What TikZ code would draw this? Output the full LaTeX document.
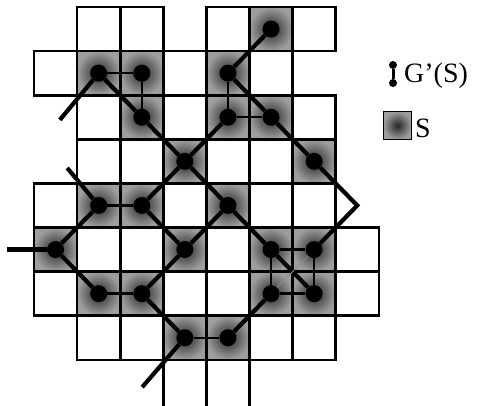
\documentclass[tikz,border=0pt]{standalone}
\usepackage{fontspec}
\setmainfont{Liberation Serif}
\usetikzlibrary{backgrounds}

\begin{document}
\begin{tikzpicture}[
        x=1pt, y=-1pt,
        font=\fontsize{28}{32}\selectfont,
    % cells of S: gray, darker towards the middle
        scell/.style={shading=radial, inner color=black!85, outer color=black!38},
        gline/.style={line width=2.6pt},
        vtx/.style={circle, fill=black, inner sep=0pt, minimum size=17pt},
        lvtx/.style={circle, fill=black, inner sep=0pt, minimum size=8pt},
        gedge/.style={line width=2.4pt},
        dedge/.style={line width=4.2pt, line join=miter},
        fedge/.style={line width=0.8pt, black!45}
    ]
\useasboundingbox (0,0) rectangle (480,405);

\begin{scope}[shift={(34,7)}, x=43.1pt, y=-44.1pt]
% --- cells of S and the grid, behind everything ---
\begin{pgfonlayer}{background}
\foreach \c/\r in {5/0, 1/1, 2/1, 4/1, 2/2, 4/2, 5/2, 3/3, 6/3, 1/4, 2/4, 4/4,
                   0/5, 3/5, 5/5, 6/5, 1/6, 2/6, 5/6, 6/6, 3/7, 4/7}
    \shade[scell] (\c,\r) rectangle ++(1,1);
\foreach \r/\cols in {0/{1,2,4,5,6}, 1/{0,...,5}, 2/{1,...,6}, 3/{1,...,6},
                      4/{0,...,6}, 5/{0,...,7}, 6/{0,...,7}, 7/{1,...,6}}
    \foreach \c in \cols
        \draw[gline] (\c,\r) rectangle ++(1,1);
\draw[gline] (3,8) -- (3,9.2) (4,8) -- (4,9.2) (5,8) -- (5,9.2);
\end{pgfonlayer}

% --- vertices: one dot per cell of S ---
\foreach \c/\r in {5/0, 1/1, 2/1, 4/1, 2/2, 4/2, 5/2, 3/3, 6/3, 1/4, 2/4, 4/4,
                   0/5, 3/5, 5/5, 6/5, 1/6, 2/6, 5/6, 6/6, 3/7, 4/7}
    \node[vtx] (v\c\r) at (\c+.5,\r+.5) {};

% --- loose ends ---
\coordinate (e1) at (0.6,2.56);
\coordinate (e2) at (0.77,3.65);
\coordinate (e3) at (-0.63,5.5);
\coordinate (e4) at (2.51,8.62);
\coordinate (tip) at (7.5,4.5);

% --- G'(S): side neighbours ---
\draw[gedge] (v11) -- (v21) -- (v22);
\draw[gedge] (v41) -- (v42) -- (v52);
\draw[gedge] (v14) -- (v24);
\draw[gedge] (v16) -- (v26);
\draw[gedge] (v37) -- (v47);
\draw[gedge] (v55) -- (v65) -- (v66);
\draw[gedge] (v55) -- (v56) -- (v66);

% --- corner links ---
\draw[dedge] (e1) -- (v11) -- (v22) -- (v33) -- (v44) -- (v55) -- (v66);
\draw[dedge] (v42) -- (v33) -- (v24) -- (v35) -- (v44);
\draw[dedge] (v50) -- (v41) -- (v52) -- (v63) -- (tip) -- (v65);
\draw[dedge] (v56) -- (v47);
\draw[dedge] (e2) -- (v14) -- (v05) -- (v16);
\draw[dedge] (e3) -- (v05);
\draw[dedge] (v35) -- (v26) -- (v37) -- (e4);
\draw[fedge] (v65) -- (v56);
\end{scope}

% --- legend ---
\node[lvtx] (lg1) at (393,65) {};
\node[lvtx] (lg2) at (393,83) {};
\draw[line width=3pt] (lg1) -- (lg2);
\node[anchor=base west, inner sep=0pt] (lgt) at (404,82) {G’(S)};
\node[draw, line width=1pt, scell, minimum size=28pt, inner sep=0pt] (lsq) at (397.5,125.5) {};
\node[anchor=base west, inner sep=0pt] (lst) at (415,137) {S};
\end{tikzpicture}
\end{document}
